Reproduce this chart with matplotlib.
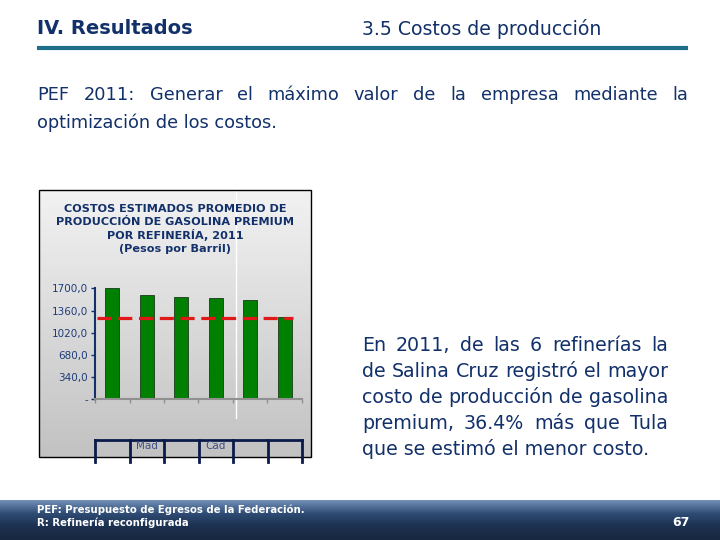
import matplotlib.pyplot as plt
import matplotlib.patches as mpatches
from matplotlib.colors import LinearSegmentedColormap
import numpy as np

# Data (pesos por barril)
refinerias = ['Cadereyta', 'Madero', 'Minatitlán', 'Salamanca', 'Salina Cruz', 'Tula']
costos = [1712, 1593, 1562, 1547, 1516, 1256]
referencia = 1240
yticks = [0, 340, 680, 1020, 1360, 1700]
ytick_labels = ['-', '340,0', '680,0', '1020,0', '1360,0', '1700,0']
cell_labels = ['', 'Mad', '', 'Cad', '', '']

chart_title = ('COSTOS ESTIMADOS PROMEDIO DE\nPRODUCCIÓN DE GASOLINA PREMIUM\n'
               'POR REFINERÍA, 2011\n(Pesos por Barril)')
intro = ['PEF 2011: Generar el máximo valor de la empresa mediante la',
         'optimización de los costos.']
comentario = ['En 2011, de las 6 refinerías la',
              'de Salina Cruz registró el mayor',
              'costo de producción de gasolina',
              'premium, 36.4% más que Tula',
              'que se estimó el menor costo.']

navy = '#12306a'
W, H = 720, 540

fig = plt.figure(figsize=(7.2, 5.4), dpi=100)
bg = fig.add_axes([0, 0, 1, 1])
bg.axis('off')

# header
bg.text(37, 29, 'IV. Resultados', fontsize=14, fontweight='bold', color=navy,
        va='center', ha='left')
bg.text(362, 29, '3.5 Costos de producción', fontsize=13.6, color=navy,
        va='center', ha='left')
bg.plot([37, 688], [48, 48], color='#1f6e8a', lw=3, solid_capstyle='butt')

renderer = fig.canvas.get_renderer()


def justified(lines, x0, x1, y0, dy, size):
    for i, line in enumerate(lines):
        y = y0 + i * dy
        words = line.split(' ')
        if i == len(lines) - 1:
            bg.text(x0, y, line, fontsize=size, color=navy, va='baseline', ha='left')
            continue
        arts = [bg.text(0, y, w, fontsize=size, color=navy, va='baseline', ha='left')
                for w in words]
        widths = [a.get_window_extent(renderer).width for a in arts]
        gap = (x1 - x0 - sum(widths)) / (len(words) - 1)
        x = x0
        for a, w in zip(arts, widths):
            a.set_x(x)
            x += w + gap


# chart frame with gray gradient
grad = np.linspace(0, 1, 100).reshape(-1, 1)
bg.imshow(grad, extent=[39, 311, 457, 190], aspect='auto', zorder=0,
          cmap=LinearSegmentedColormap.from_list('g', ['#f2f2f2', '#c2c2c2']))
bg.add_patch(mpatches.Rectangle((39, 190), 272, 267, fill=False, ec='black', lw=1, zorder=2))
bg.plot([236, 236], [191, 418], color='white', lw=1, zorder=1)
bg.text(175, 229, chart_title, fontsize=8.1, color=navy, ha='center', va='center',
        linespacing=1.27, fontweight='bold', zorder=3)

# footer band
foot = np.linspace(0, 1, 100).reshape(-1, 1)
bg.imshow(foot, extent=[0, W, 540, 500], aspect='auto', zorder=0,
          cmap=LinearSegmentedColormap.from_list(
              'f', ['#7391b8', '#2f4c74', '#1c3050', '#18283f']))
bg.set_xlim(0, W)
bg.set_ylim(H, 0)

justified(intro, 37, 688, 100, 28, 12.8)
justified(comentario, 362, 668, 351, 26, 13.7)

# table cells under the chart
xb = np.linspace(95, 302, 7)
bg.plot([95, 302], [440, 440], color='#0a1a4a', lw=2, zorder=3)
for xv in xb:
    bg.plot([xv, xv], [440, 462], color='#0a1a4a', lw=2, zorder=3)
clip = mpatches.Rectangle((95, 441), 207, 5, transform=bg.transData)
for i, lab in enumerate(cell_labels):
    if lab:
        t = bg.text((xb[i] + xb[i + 1]) / 2, 441, lab, fontsize=7.5, color='#405080',
                    ha='center', va='top', zorder=3)
        t.set_clip_path(clip)

# bar chart axes
ax = fig.add_axes([95 / W, 1 - 399.3 / H, 207 / W, 111 / H])
ax.patch.set_alpha(0)
x = np.arange(len(costos))
ax.bar(x, costos, width=0.42, color='#008000', edgecolor='#1a3a1a', lw=0.6, clip_on=False,
       zorder=2)
ax.plot([-0.45, 5.25], [referencia, referencia], color='#e01818', lw=2.3,
        dashes=(4.4, 2.1), zorder=3, clip_on=False)
ax.set_xlim(-0.5, 5.5)
ax.set_ylim(0, 1700)
ax.set_yticks(yticks)
ax.set_yticklabels(ytick_labels, fontsize=7.5, color='#1e3c7a')
ax.set_xticks(np.arange(-0.5, 6, 1))
ax.set_xticklabels([])
ax.tick_params(axis='x', color='#909090', length=3, width=1, direction='out')
ax.tick_params(axis='y', color=navy, length=3, width=1, pad=2)
for s in ['top', 'right']:
    ax.spines[s].set_visible(False)
ax.spines['left'].set_color(navy)
ax.spines['left'].set_linewidth(1.5)
ax.spines['bottom'].set_color('#909090')
ax.spines['bottom'].set_linewidth(1.5)

# footer text
bg.text(37, 510, 'PEF: Presupuesto de Egresos de la Federación.', fontsize=7.3,
        color='white', fontweight='bold', va='center')
bg.text(37, 523, 'R: Refinería reconfigurada', fontsize=7.3, color='white',
        fontweight='bold', va='center')
bg.text(690, 523, '67', fontsize=9, color='white', fontweight='bold', va='center', ha='right')

fig.savefig('out.png', dpi=100)
